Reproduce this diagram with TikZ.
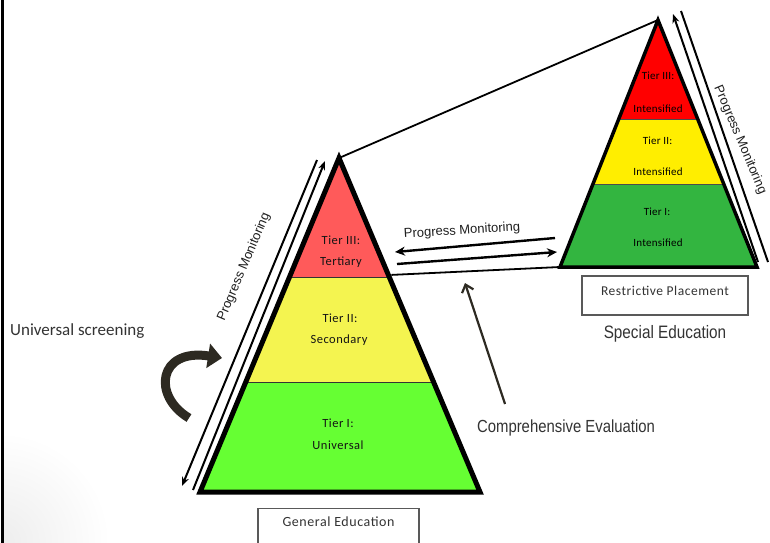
\documentclass[tikz,border=0pt]{standalone}
\usepackage{fontspec}
\setmainfont{Liberation Sans}
\newfontfamily\calib{Carlito}
\newfontfamily\calibsp[LetterSpace=4]{Carlito}
\newfontfamily\calibsq[LetterSpace=2]{Carlito}
\newfontfamily\arialn[FakeStretch=0.85]{Liberation Sans}
\usetikzlibrary{arrows.meta,calc}
\definecolor{lred}{HTML}{FF5A5A}
\definecolor{lyellow}{HTML}{F4F450}
\definecolor{lgreen}{HTML}{66FF33}
\definecolor{rred}{HTML}{FF0000}
\definecolor{ryellow}{HTML}{FFEE00}
\definecolor{rgreen}{HTML}{33B540}
\definecolor{txtgray}{HTML}{333333}
\definecolor{arrowdark}{HTML}{2D2A22}
\tikzset{
  tiertext/.style={font=\calibsp\fontsize{12.5}{14}\selectfont, text=black!92, inner sep=0pt},
  rtiertext/.style={font=\calibsq\fontsize{11}{13}\selectfont, text=black, inner sep=0pt},
  boxtext/.style={font=\calibsp\fontsize{14}{16}\selectfont, text=txtgray, inner sep=0pt},
  arlabel/.style={font=\fontsize{13}{15}\selectfont, text=black!88, inner sep=0pt},
  biglabel/.style={font=\arialn\fontsize{18}{20}\selectfont, text=txtgray, inner sep=0pt},
  framebox/.style={draw=black!65, line width=1.1pt, fill=white},
  pmarrow/.style={line width=2pt, -{Stealth[length=9pt,width=7pt]}},
  midarrow/.style={line width=2.4pt, -{Stealth[length=10pt,width=9pt]}},
}
\begin{document}
\begin{tikzpicture}[x=1pt,y=-1pt]
\useasboundingbox (0,0) rectangle (770,542);
% corner shading
\begin{scope}
\clip (3,400) rectangle (240,542);
\shade[inner color=black!7, outer color=white] (0,542) circle (110);
\end{scope}
\draw[line width=3pt] (2,-2) -- (2,544);

% ---------- left pyramid ----------
\coordinate (LA) at (339,158);
\coordinate (LBL) at (200,492);
\coordinate (LBR) at (480,492);
\coordinate (L3l) at ($(LA)!0.359!(LBL)$);
\coordinate (L3r) at ($(LA)!0.359!(LBR)$);
\coordinate (L2l) at ($(LA)!0.671!(LBL)$);
\coordinate (L2r) at ($(LA)!0.671!(LBR)$);
\fill[lred] (LA) -- (L3l) -- (L3r) -- cycle;
\fill[lyellow] (L3l) -- (L2l) -- (L2r) -- (L3r) -- cycle;
\fill[lgreen] (L2l) -- (LBL) -- (LBR) -- (L2r) -- cycle;
\draw[line width=0.9pt, black!80] (L3l) -- (L3r) (L2l) -- (L2r);
\draw[line width=5pt, line join=miter] (LA) -- (LBL) -- (LBR) -- cycle;

\node[tiertext] (t3a) at (341,240) {Tier III:};
\node[tiertext] (t3b) at (341,262) {Tertiary};
\node[tiertext] (t2a) at (340,318) {Tier II:};
\node[tiertext] (t2b) at (339,340) {Secondary};
\node[tiertext] (t1a) at (338,423) {Tier I:};
\node[tiertext] (t1b) at (338,445) {Universal};

% ---------- right pyramid ----------
\coordinate (RA) at (658,20);
\coordinate (RBL) at (560,267);
\coordinate (RBR) at (757,267);
\coordinate (R3l) at ($(RA)!0.401!(RBL)$);
\coordinate (R3r) at ($(RA)!0.401!(RBR)$);
\coordinate (R2l) at ($(RA)!0.664!(RBL)$);
\coordinate (R2r) at ($(RA)!0.664!(RBR)$);
\fill[rred] (RA) -- (R3l) -- (R3r) -- cycle;
\fill[ryellow] (R3l) -- (R2l) -- (R2r) -- (R3r) -- cycle;
\fill[rgreen] (R2l) -- (RBL) -- (RBR) -- (R2r) -- cycle;
\draw[line width=0.8pt, black!70] (R3l) -- (R3r) (R2l) -- (R2r);
\draw[line width=3.5pt, line join=miter] (RA) -- (RBL) -- (RBR) -- cycle;

\node[rtiertext] (r3a) at (658,76) {Tier III:};
\node[rtiertext] (r3b) at (658,109) {Intensified};
\node[rtiertext] (r2a) at (657.5,141) {Tier II:};
\node[rtiertext] (r2b) at (658,172) {Intensified};
\node[rtiertext] (r1a) at (657,212) {Tier I:};
\node[rtiertext] (r1b) at (658,243) {Intensified};

% ---------- connecting lines ----------
\draw[line width=1.8pt] (LA) -- (RA);
\coordinate (Ljoin) at ($(LA)!0.35!(LBR)+(3,0)$);
\draw[line width=1.8pt] (Ljoin) -- (RBL);

% middle progress monitoring arrows
\coordinate (ma1) at (555,238);
\coordinate (ma2) at (395,252);
\coordinate (mb1) at (397,264);
\coordinate (mb2) at (557,252);
\draw[midarrow] (ma1) -- (ma2);
\draw[midarrow] (mb1) -- (mb2);
\node[arlabel, rotate=3.5] (pmmid) at (462,231) {Progress Monitoring};

% left progress monitoring arrows
\coordinate (la1) at (317,160);
\coordinate (la2) at (182,486);
\coordinate (lb1) at (193,490);
\coordinate (lb2) at (325,161);
\draw[pmarrow] (la1) -- (la2);
\draw[pmarrow] (lb1) -- (lb2);
\node[arlabel, rotate=67] (pmleft) at (244,267) {Progress Monitoring};

% right progress monitoring arrows
\coordinate (ra1) at (758,262);
\coordinate (ra2) at (673,14);
\coordinate (rb1) at (681,11);
\coordinate (rb2) at (768,262);
\draw[pmarrow] (ra1) -- (ra2);
\draw[line width=2pt] (rb1) -- (rb2);
\node[arlabel, rotate=-67] (pmright) at (740,140) {Progress Monitoring};

% ---------- universal screening ----------
\node[font=\calib\fontsize{17}{19}\selectfont, text=txtgray, anchor=west, inner sep=0pt] (us) at (10,331) {Universal screening};
\coordinate (cs) at (189,418);
\coordinate (ce) at (222,358);
\draw[line width=9pt, arrowdark, -{Triangle[length=14pt,width=24pt]}] (cs) .. controls (152,396) and (158,348) .. (ce);

% ---------- comprehensive evaluation ----------
\coordinate (ceS) at (505,404);
\coordinate (ceE) at (465,283);
\draw[line width=2.2pt, arrowdark, -{Straight Barb[length=7pt,width=12pt]}] (ceS) -- (ceE);
\node[biglabel, font=\arialn\fontsize{17.5}{20}\selectfont] (compev) at (566,428) {Comprehensive Evaluation};

% ---------- boxes ----------
\node[framebox, anchor=north, minimum width=161pt, minimum height=46pt] (gebox) at (338.5,508) {};
\node[boxtext] (getext) at (338.5,522) {General Education};
\node[framebox, minimum width=166pt, minimum height=39pt] (rpbox) at (665,295.5) {};
\node[boxtext, font=\calibsp\fontsize{13.5}{15}\selectfont] (rptext) at (665,291) {Restrictive Placement};
\node[biglabel] (sped) at (665,334) {Special Education};
\end{tikzpicture}
\end{document}
